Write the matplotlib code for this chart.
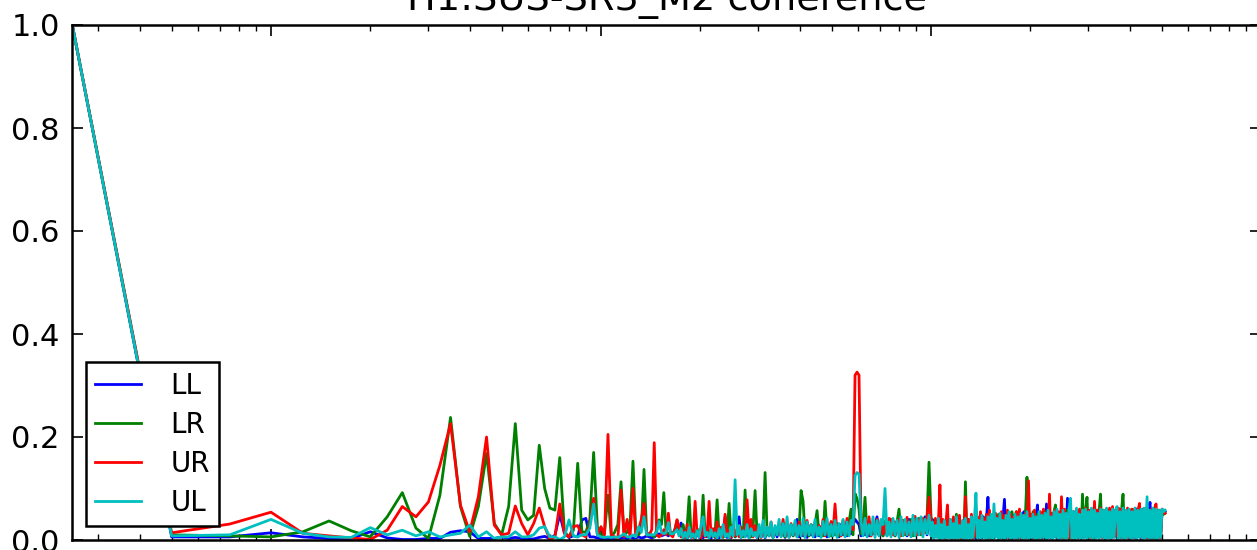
import numpy as np
import matplotlib
matplotlib.use("Agg")
import matplotlib.pyplot as plt

# ---------------- data ----------------
title = "H1:SUS-SR3_M2 coherence"
labels = ["LL", "LR", "UR", "UL"]
colors = ["#0000ff", "#008000", "#ff0000", "#00bfbf"]

# frequency ranges (Hz) of the three blocks of readings
low_step = 0.25            # 0.25 .. 17 Hz, full resolution
mid_range = (17.25, 100)   # read at ~2 px steps (log axis)
high_range = (101, 512)    # read at ~1.5 px steps (log axis)

# coherence, 0.25 .. 17 Hz
LL_low = [1.0, .006, .006, .014, .006, .003, .003, .016, .004, .001, .001, .003, .003, .015, .018, .016,
          .003, .003, .003, .006, .003, .005, .003, .002, .002, .005, .007, .003, .009, .050, .013, .005,
          .008, .006, .039, .042, .006, .006, .004, .003, .003, .003, .003, .003, .003, .004, .005, .003,
          .006, .004, .004, .006, .004, .005, .008, .006, .004, .006, .010, .012, .008, .010, .012, .008,
          .015, .010, .020, .030]
LR_low = [1.0, .010, .008, .006, .016, .037, .018, .006, .045, .092, .023, .003, .087, .238, .065, .007,
          .065, .168, .032, .010, .065, .226, .058, .039, .048, .184, .100, .062, .058, .160, .016, .006,
          .019, .149, .016, .015, .040, .170, .026, .006, .015, .087, .006, .015, .030, .113, .010, .015,
          .030, .153, .015, .010, .020, .137, .015, .010, .010, .006, .020, .039, .030, .092, .015, .013,
          .010, .013, .020, .039]
UR_low = [1.0, .014, .031, .054, .013, .008, .004, .001, .019, .065, .045, .074, .145, .226, .068, .016,
          .084, .200, .029, .010, .013, .066, .032, .010, .032, .062, .026, .001, .006, .070, .013, .006,
          .026, .028, .010, .006, .030, .081, .010, .026, .010, .205, .010, .006, .002, .097, .006, .040,
          .006, .100, .006, .020, .040, .071, .010, .010, .020, .189, .010, .006, .010, .020, .010, .052,
          .010, .006, .020, .039]
UL_low = [1.0, .008, .010, .040, .013, .006, .005, .024, .010, .019, .008, .016, .006, .010, .013, .029,
          .006, .016, .003, .006, .006, .016, .006, .006, .010, .023, .026, .006, .006, .001, .006, .039,
          .008, .006, .010, .010, .023, .070, .010, .006, .005, .006, .005, .006, .005, .008, .012, .006,
          .006, .010, .006, .026, .015, .045, .010, .010, .010, .010, .015, .036, .015, .012, .015, .034,
          .012, .012, .015, .020]

# coherence x1000, 17 .. 100 Hz
LL_mid = [10, 33, 4, 12, 3, 15, 5, 10, 3, 18,
          5, 12, 4, 20, 6, 10, 3, 15, 5, 12,
          4, 18, 6, 45, 5, 15, 4, 20, 6, 12,
          45, 5, 18, 6, 22, 4, 15, 8, 25, 5,
          20, 6, 28, 4, 18, 8, 25, 5, 22, 6,
          30, 8, 20, 5, 25, 6, 28, 8, 22, 40,
          6, 25, 8, 30, 5, 22, 10, 28, 6, 32,
          8, 25, 10, 30, 6, 28, 8, 32, 10, 25,
          6, 30, 10, 28, 8, 35, 12, 30, 40, 35,
          30, 8, 32, 10, 35, 8, 30, 12, 28, 45,
          10, 32, 8, 35, 12, 30, 10, 36, 8, 32,
          12, 38, 10, 35, 8, 40, 12, 36, 10, 38,
          12, 40, 15, 45, 10, 38, 30]
LR_mid = [20, 6, 30, 8, 25, 84, 10, 18, 5, 22,
          8, 15, 87, 10, 25, 6, 20, 8, 15, 78,
          10, 22, 5, 18, 8, 71, 10, 25, 6, 20,
          8, 15, 6, 97, 12, 20, 6, 25, 96, 10,
          18, 6, 22, 131, 15, 8, 25, 6, 20, 10,
          28, 8, 22, 6, 30, 10, 25, 8, 32, 6,
          20, 96, 75, 10, 28, 8, 25, 12, 30, 57,
          10, 25, 8, 75, 12, 30, 8, 28, 10, 32,
          8, 25, 12, 30, 10, 35, 60, 10, 90, 80,
          60, 12, 30, 83, 10, 35, 8, 30, 12, 38,
          10, 32, 8, 36, 12, 30, 10, 38, 8, 35,
          60, 12, 38, 10, 35, 15, 40, 8, 36, 12,
          42, 10, 38, 15, 40, 151, 45]
UR_mid = [25, 6, 18, 4, 30, 8, 20, 5, 75, 10,
          15, 4, 28, 6, 12, 75, 8, 22, 5, 35,
          10, 25, 6, 50, 8, 18, 5, 30, 8, 20,
          6, 25, 10, 15, 78, 12, 40, 6, 28, 10,
          22, 5, 30, 8, 25, 10, 35, 6, 20, 12,
          30, 8, 40, 10, 28, 6, 32, 12, 25, 8,
          35, 10, 22, 6, 38, 12, 30, 8, 35, 10,
          28, 12, 40, 8, 32, 10, 36, 15, 70, 10,
          30, 8, 38, 12, 42, 10, 35, 20, 320, 326,
          320, 30, 10, 38, 12, 45, 8, 35, 15, 40,
          10, 38, 12, 30, 8, 42, 40, 10, 35, 15,
          40, 8, 38, 12, 44, 10, 36, 15, 46, 10,
          40, 12, 42, 15, 45, 83, 40]
UL_mid = [8, 22, 4, 15, 3, 25, 5, 12, 4, 18,
          6, 30, 45, 8, 15, 4, 20, 6, 14, 3,
          22, 5, 30, 6, 12, 4, 25, 8, 117, 10,
          28, 5, 18, 6, 30, 4, 22, 8, 15, 5,
          30, 6, 38, 5, 25, 8, 35, 4, 28, 10,
          40, 6, 32, 8, 45, 5, 30, 10, 38, 6,
          28, 8, 42, 5, 35, 10, 30, 6, 40, 8,
          25, 5, 36, 10, 42, 6, 30, 8, 38, 5,
          32, 10, 40, 6, 35, 8, 38, 30, 125, 131,
          128, 35, 8, 42, 6, 30, 10, 45, 5, 38,
          8, 40, 30, 100, 8, 35, 6, 42, 10, 38,
          5, 45, 8, 40, 10, 35, 6, 48, 8, 42,
          10, 45, 6, 40, 12, 48, 8]

# coherence x1000, 100 .. 512 Hz
LL_high = [40, 4, 30, 6, 25, 3, 35, 5, 28, 4,
           30, 6, 25, 3, 35, 5, 30, 4, 45, 6,
           35, 3, 30, 5, 40, 4, 38, 6, 32, 3,
           42, 5, 38, 4, 45, 6, 40, 83, 5, 38,
           4, 45, 6, 40, 3, 48, 5, 42, 79, 4,
           45, 6, 42, 3, 48, 5, 45, 4, 50, 6,
           48, 55, 4, 45, 6, 50, 3, 48, 5, 45,
           68, 4, 48, 6, 50, 3, 70, 5, 45, 4,
           50, 6, 52, 3, 48, 5, 55, 4, 50, 6,
           81, 3, 52, 5, 55, 4, 50, 6, 55, 3,
           52, 5, 58, 4, 55, 6, 52, 3, 58, 5,
           55, 4, 58, 6, 52, 3, 55, 5, 58, 4,
           55, 6, 58, 3, 55, 5, 60, 4, 55, 6,
           58, 3, 55, 5, 58, 4, 60, 6, 55, 3,
           58, 5, 55, 4, 60, 73, 3, 58, 6, 55,
           4, 58, 5, 55, 58, 55]
LR_high = [32, 5, 28, 8, 38, 4, 30, 6, 35, 3,
           28, 6, 40, 4, 32, 8, 50, 5, 38, 3,
           30, 6, 113, 4, 35, 8, 40, 5, 32, 6,
           42, 4, 50, 8, 38, 5, 45, 3, 40, 6,
           48, 4, 42, 8, 50, 5, 45, 3, 40, 6,
           52, 4, 46, 55, 8, 48, 55, 5, 50, 3,
           45, 6, 52, 122, 5, 48, 4, 55, 8, 50,
           3, 52, 6, 48, 5, 55, 4, 50, 8, 52,
           5, 55, 68, 6, 52, 4, 55, 8, 50, 5,
           58, 3, 55, 6, 52, 8, 58, 4, 55, 6,
           89, 5, 55, 83, 4, 58, 6, 55, 3, 58,
           8, 55, 89, 5, 58, 4, 55, 6, 58, 3,
           55, 8, 58, 5, 55, 4, 58, 89, 6, 55,
           4, 58, 6, 55, 8, 58, 3, 55, 6, 58,
           5, 55, 8, 58, 4, 55, 6, 58, 3, 55,
           8, 52, 5, 55, 50, 52]
UR_high = [30, 5, 42, 8, 35, 107, 6, 40, 4, 32,
           68, 5, 38, 8, 45, 3, 35, 6, 48, 4,
           30, 8, 84, 5, 40, 6, 50, 3, 38, 8,
           45, 4, 55, 6, 42, 8, 50, 5, 58, 3,
           40, 6, 52, 8, 45, 4, 55, 6, 48, 5,
           58, 3, 50, 8, 45, 5, 55, 6, 60, 4,
           48, 8, 52, 5, 115, 6, 50, 4, 58, 8,
           45, 5, 55, 3, 60, 8, 50, 6, 89, 4,
           52, 8, 58, 5, 55, 6, 84, 4, 60, 8,
           50, 5, 62, 3, 55, 8, 58, 6, 60, 4,
           55, 8, 62, 5, 58, 3, 60, 8, 75, 5,
           58, 6, 62, 4, 55, 8, 60, 5, 62, 3,
           65, 6, 58, 8, 62, 4, 60, 5, 55, 8,
           62, 3, 58, 60, 6, 62, 4, 58, 71, 5,
           60, 8, 62, 4, 58, 6, 60, 5, 62, 70,
           6, 58, 4, 60, 55, 52]
UL_high = [35, 3, 28, 5, 42, 2, 30, 4, 38, 3,
           25, 5, 40, 2, 32, 4, 45, 3, 28, 5,
           38, 2, 42, 4, 30, 3, 45, 5, 40, 91,
           4, 38, 2, 48, 5, 35, 3, 45, 4, 50,
           3, 70, 5, 42, 2, 52, 4, 38, 3, 48,
           5, 55, 2, 40, 4, 50, 3, 45, 5, 52,
           2, 48, 4, 55, 3, 42, 5, 50, 2, 45,
           4, 55, 3, 48, 5, 52, 2, 58, 4, 45,
           3, 55, 5, 60, 2, 50, 4, 58, 3, 52,
           5, 60, 81, 4, 55, 2, 62, 5, 50, 3,
           58, 4, 60, 3, 55, 5, 62, 2, 58, 4,
           52, 3, 60, 5, 58, 2, 62, 4, 55, 3,
           60, 5, 58, 65, 3, 55, 4, 62, 2, 58,
           5, 60, 3, 55, 4, 62, 2, 58, 5, 60,
           3, 62, 4, 84, 5, 58, 3, 62, 4, 60,
           2, 58, 5, 60, 55, 58]

series = {
    "LL": (LL_low, LL_mid, LL_high),
    "LR": (LR_low, LR_mid, LR_high),
    "UR": (UR_low, UR_mid, UR_high),
    "UL": (UL_low, UL_mid, UL_high),
}

# ---------------- figure ----------------
W, H, DPI = 1257, 550, 100
fig = plt.figure(figsize=(W / DPI, H / DPI), dpi=DPI, facecolor="white")
left, right, top, bottom = 72.3, 1261.0, 25.0, 540.0
ax = fig.add_axes([left / W, (H - bottom) / H, (right - left) / W, (bottom - top) / H])

for name, col in zip(labels, colors):
    lo, mid, hi = series[name]
    f = np.concatenate([low_step * np.arange(1, len(lo) + 1),
                        np.geomspace(*mid_range, len(mid)),
                        np.geomspace(*high_range, len(hi))])
    vals = np.concatenate([np.asarray(lo, float),
                           np.asarray(mid, float) / 1000.0,
                           np.asarray(hi, float) / 1000.0])
    ax.plot(f, vals, color=col, lw=2.0, label=name)

ax.set_xscale("log")
ax.set_xlim(0.25, 1000)
ax.set_ylim(0.0, 1.0)
ax.set_yticks([0.0, 0.2, 0.4, 0.6, 0.8, 1.0])
ax.set_yticklabels(["0.0", "0.2", "0.4", "0.6", "0.8", "1.0"])

for s in ax.spines.values():
    s.set_linewidth(1.8)
ax.tick_params(which="both", direction="in", top=True, right=True, labelbottom=False)
ax.tick_params(which="major", length=8, width=1.2)
ax.tick_params(which="minor", length=4, width=1.0)
ax.tick_params(axis="y", labelsize=22, pad=9)

ax.set_title(title, fontsize=27.5, pad=10.7)

leg = ax.legend(loc="lower left", fontsize=20, frameon=True, fancybox=False,
                edgecolor="black", framealpha=1.0, handlelength=1.65,
                handletextpad=1.06, borderpad=0.33, labelspacing=0.4,
                borderaxespad=0.5)
leg.get_frame().set_linewidth(1.8)

fig.savefig("out.png", dpi=DPI, facecolor="white")
